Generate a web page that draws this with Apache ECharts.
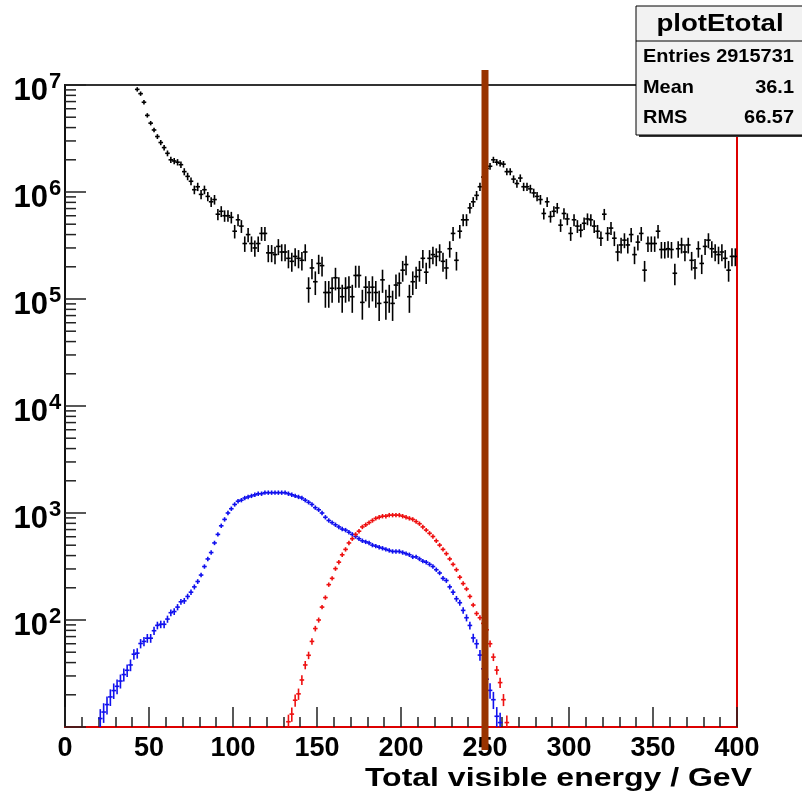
<!DOCTYPE html>
<html><head><meta charset="utf-8">
<script src="https://cdn.jsdelivr.net/npm/echarts@6/dist/echarts.min.js"></script>
<style>html,body{margin:0;padding:0;background:#fff}#c{width:802px;height:795px}</style>
</head><body><div id="c"></div>
<script>
// ---- data (bin width 2 GeV, values = entries per bin) ----
const binWidth = 2;
const blackFirstBin = 43;
const blackCounts = [
 9.1e6,8.3e6,6.9e6,5.2e6,4.4e6,3.8e6,3.3e6,2.9e6,2.6e6,2.3e6,
 2.0e6,1.95e6,1.9e6,1.8e6,1.55e6,1.4e6,1.26e6,1.05e6,1.12e6,9.5e5,
 1.05e6,9.1e5,8.1e5,8.5e5,6.2e5,6.6e5,6.0e5,6.0e5,5.8e5,4.3e5,
 5.5e5,4.8e5,3.3e5,4.0e5,3.3e5,3.0e5,3.3e5,4.1e5,4.1e5,2.7e5,
 2.7e5,2.6e5,3.1e5,2.75e5,2.75e5,2.4e5,2.25e5,2.5e5,2.4e5,2.3e5,
 2.75e5,1.26e5,1.95e5,1.45e5,2.15e5,2.05e5,1.15e5,1.15e5,1.26e5,1.58e5,
 1.26e5,1.05e5,1.26e5,1.29e5,1.05e5,1.66e5,1.66e5,9.3e4,1.29e5,1.15e5,
 1.29e5,1.15e5,9.1e4,1.51e5,9.3e4,1.05e5,9.1e4,1.35e5,1.41e5,1.86e5,
 2.1e5,1.05e5,1.45e5,1.62e5,1.86e5,2.4e5,1.78e5,2.4e5,2.6e5,2.5e5,
 2.75e5,2.25e5,1.95e5,2.95e5,4.1e5,2.3e5,4.3e5,5.5e5,5.5e5,7.1e5,
 8.1e5,9.3e5,1.12e6,1.38e6,1.66e6,1.74e6,2.0e6,1.9e6,1.86e6,1.82e6,
 1.55e6,1.55e6,1.32e6,1.2e6,1.35e6,1.12e6,1.12e6,1.07e6,9.8e5,9.1e5,
 8.5e5,6.3e5,8.1e5,5.9e5,6.6e5,7.1e5,4.9e5,6.3e5,5.6e5,4.1e5,
 5.5e5,4.8e5,4.4e5,5.1e5,5.6e5,5.5e5,4.8e5,4.3e5,3.7e5,6.2e5,
 4.1e5,4.6e5,3.7e5,2.75e5,3.2e5,3.55e5,3.2e5,4.0e5,2.6e5,3.4e5,
 4.1e5,1.86e5,3.3e5,3.3e5,3.3e5,4.3e5,2.9e5,2.9e5,2.95e5,2.9e5,
 1.74e5,2.95e5,3.2e5,2.75e5,3.2e5,2.3e5,1.95e5,2.95e5,2.15e5,3.1e5,
 3.55e5,2.95e5,2.75e5,2.6e5,2.75e5,2.4e5,1.86e5,2.5e5,2.5e5
];
const blueFirstBin = 21;
const blueCounts = [
 12,13.8,16.2,19.1,21.9,24,26.9,30.9,33.9,38,
 47.9,49,60.3,63.1,67.6,67.6,79.4,89.1,91.2,91.2,
 102,117,120,132,148,151,166,182,204,229,
 263,316,372,427,525,631,759,871,1000,1096,
 1202,1288,1318,1380,1413,1445,1479,1514,1514,1549,
 1549,1549,1549,1549,1549,1549,1514,1479,1445,1413,
 1380,1318,1259,1202,1122,1072,1000,912,851,813,
 776,741,708,692,661,631,603,575,550,537,
 525,501,490,479,468,457,447,437,437,437,
 427,417,407,389,389,372,355,347,331,316,
 295,275,245,234,204,182,158,145,123,105,
 89,68,60,47,35,28,22,18,12.6,11
];
const redFirstBin = 133;
const redCounts = [
 11.2,13.2,17.8,20.4,27.5,38,46.8,63.1,83.2,100,
 132,162,214,245,302,347,407,457,525,575,
 631,676,741,776,813,851,891,912,933,933,
 955,955,955,955,933,912,891,871,832,794,
 741,692,646,603,550,501,457,417,372,331,
 295,251,219,195,166,138,115,105,93,81,
 60,45,34,26,18,11
];
// per-entry weights used for the error bars (sqrt(N*w))
const blackWeight = 9000, blueWeight = 0.6, redWeight = 0.3;
const cutEnergy = [250];
const yLabelValues = [1e2, 1e3, 1e4, 1e5, 1e6, 1e7];
const statsTitle = 'plotEtotal';
const statsLabels = ['Entries 2915731', 'Mean', 'RMS'];
const statsValues = ['', '36.1', '66.57'];
const axisTitle = 'Total visible energy / GeV';

const FONT = '"Liberation Sans", Arial, Helvetica, sans-serif';

function toPairs(first, counts) { return counts.map((c, i) => [first + i * binWidth, c]); }
const yMinorTicks = [];
for (let k = 1; k <= 6; k++) for (let m = 2; m <= 9; m++) yMinorTicks.push([0, m * Math.pow(10, k)]);

function crossRenderer(color, w) {
  return function (params, api) {
    const e = api.value(0), v = api.value(1);
    const err = Math.sqrt(v * w);
    const c = api.coord([e, v]);
    const l = api.coord([e - binWidth / 2, v]);
    const r = api.coord([e + binWidth / 2, v]);
    const up = api.coord([e, v + err]);
    const dn = api.coord([e, Math.max(v - err, 1e-3)]);
    const hw = Math.max((r[0] - l[0]) / 2, 2) + 0.3;
    const y1 = Math.min(up[1], c[1] - 2.2), y2 = Math.max(dn[1], c[1] + 2.2);
    return { type: 'group', children: [
      { type: 'line', shape: { x1: c[0] - hw, y1: c[1], x2: c[0] + hw, y2: c[1] }, style: { stroke: color, lineWidth: 1.6 } },
      { type: 'line', shape: { x1: c[0], y1: y1, x2: c[0], y2: y2 }, style: { stroke: color, lineWidth: 1.6 } }
    ]};
  };
}

const chart = echarts.init(document.getElementById('c'), null, { renderer: 'canvas' });
chart.setOption({
  backgroundColor: '#ffffff',
  animation: false,
  grid: { left: 65, right: 65, top: 85, bottom: 68, show: true, borderColor: '#333', borderWidth: 2, backgroundColor: 'transparent' },
  xAxis: {
    type: 'value', min: 0, max: 400, interval: 50,
    axisLine: { show: true, onZero: false, lineStyle: { color: '#dd0000', width: 2 } },
    axisTick: { show: true, inside: true, length: 20, lineStyle: { color: '#222', width: 1.5 } },
    minorTick: { show: true, splitNumber: 5, length: 10, lineStyle: { color: '#222', width: 1.5 } },
    splitLine: { show: false },
    axisLabel: { show: true, margin: 8, color: '#000', fontSize: 27, fontWeight: 'bold', fontFamily: FONT, showMaxLabel: true, showMinLabel: true }
  },
  yAxis: [{
    type: 'log', logBase: 10, min: 10, max: 1e7, interval: 1,
    axisLine: { show: true, onZero: false, lineStyle: { color: '#111', width: 2 } },
    axisTick: { show: true, inside: true, length: 21, lineStyle: { color: '#222', width: 1.5 } },
    splitLine: { show: false },
    axisLabel: { show: false }
  }, {
    type: 'log', logBase: 10, min: 10, max: 1e7, position: 'right',
    axisLine: { show: true, onZero: false, lineStyle: { color: '#dd0000', width: 2 } },
    axisTick: { show: false }, axisLabel: { show: false }, splitLine: { show: false }
  }],
  series: [
    { type: 'custom', name: 'yMinor', coordinateSystem: 'cartesian2d', clip: false, silent: true, z: 5,
      data: yMinorTicks,
      renderItem: function (params, api) {
        const p = api.coord([0, api.value(1)]);
        return { type: 'line', shape: { x1: p[0], y1: p[1], x2: p[0] + 11, y2: p[1] }, style: { stroke: '#222', lineWidth: 1.5 } };
      } },
    { type: 'custom', name: 'yLabels', coordinateSystem: 'cartesian2d', clip: false, silent: true, z: 5,
      data: yLabelValues.map(v => [0, v]),
      renderItem: function (params, api) {
        const v = api.value(1);
        const p = api.coord([0, v]);
        const exp = Math.round(Math.log10(v));
        return { type: 'group', children: [
          { type: 'text', x: p[0] - 17, y: p[1] + 6, style: { text: '10', fill: '#000', font: 'bold 31px ' + FONT, align: 'right', verticalAlign: 'middle' } },
          { type: 'text', x: p[0] - 16, y: p[1] - 3, style: { text: String(exp), fill: '#000', font: 'bold 22px ' + FONT, align: 'left', verticalAlign: 'middle' } }
        ]};
      } },
    { type: 'custom', name: 'total', clip: true, z: 3, data: toPairs(blackFirstBin, blackCounts), renderItem: crossRenderer('#000000', blackWeight) },
    { type: 'custom', name: 'blue', clip: true, z: 3, data: toPairs(blueFirstBin, blueCounts), renderItem: crossRenderer('#1010ee', blueWeight) },
    { type: 'custom', name: 'red', clip: true, z: 3, data: toPairs(redFirstBin, redCounts), renderItem: crossRenderer('#ee1010', redWeight) },
    { type: 'custom', name: 'cut', clip: false, z: 10, data: cutEnergy.map(e => [e, 1e7]),
      renderItem: function (params, api) {
        const top = api.coord([api.value(0), 1e7]);
        const bot = api.coord([api.value(0), 10]);
        return { type: 'rect', shape: { x: top[0] - 3.5, y: top[1] - 15, width: 7, height: bot[1] - top[1] + 38 }, style: { fill: '#993300' } };
      } }
  ],
  graphic: [
    { type: 'text', x: 752, y: 779, scaleX: 1.28, z: 20,
      style: { text: axisTitle, fill: '#000', font: 'bold 25px ' + FONT, align: 'right', verticalAlign: 'middle' } },
    { type: 'rect', shape: { x: 639, y: 9, width: 170, height: 128 }, style: { fill: '#333' }, z: 20 },
    { type: 'rect', shape: { x: 636, y: 6, width: 170, height: 129 }, style: { fill: '#f2f2f2', stroke: '#000', lineWidth: 1 }, z: 21 },
    { type: 'line', shape: { x1: 636, y1: 41, x2: 806, y2: 41 }, style: { stroke: '#000', lineWidth: 1 }, z: 22 },
    { type: 'text', x: 720, y: 24, scaleX: 1.15, z: 22,
      style: { text: statsTitle, fill: '#000', font: 'bold 24px ' + FONT, align: 'center', verticalAlign: 'middle' } },
    { type: 'text', x: 643, y: 57, scaleX: 1.05, z: 22,
      style: { text: statsLabels[0], fill: '#000', font: 'bold 19px ' + FONT, align: 'left', verticalAlign: 'middle' } },
    { type: 'text', x: 643, y: 88, scaleX: 1.05, z: 22,
      style: { text: statsLabels[1], fill: '#000', font: 'bold 19px ' + FONT, align: 'left', verticalAlign: 'middle' } },
    { type: 'text', x: 794, y: 88, scaleX: 1.05, z: 22,
      style: { text: statsValues[1], fill: '#000', font: 'bold 19px ' + FONT, align: 'right', verticalAlign: 'middle' } },
    { type: 'text', x: 643, y: 118, scaleX: 1.05, z: 22,
      style: { text: statsLabels[2], fill: '#000', font: 'bold 19px ' + FONT, align: 'left', verticalAlign: 'middle' } },
    { type: 'text', x: 794, y: 118, scaleX: 1.05, z: 22,
      style: { text: statsValues[2], fill: '#000', font: 'bold 19px ' + FONT, align: 'right', verticalAlign: 'middle' } }
  ]
});
</script></body></html>
